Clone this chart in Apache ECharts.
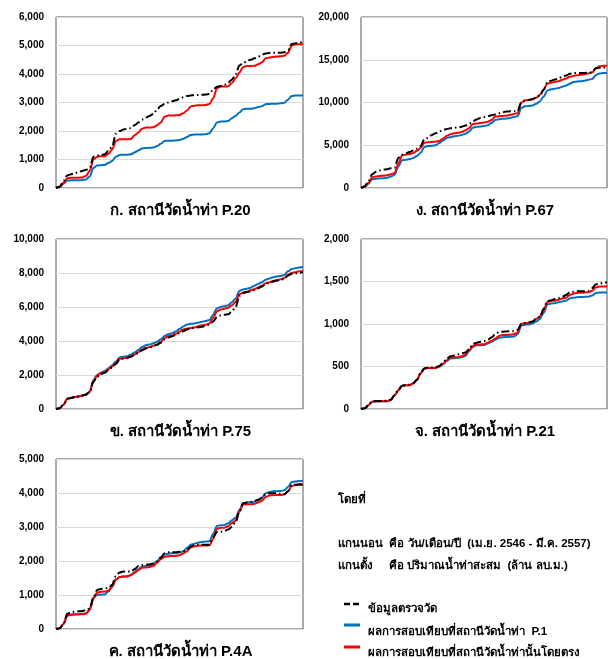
<!DOCTYPE html>
<html><head><meta charset="utf-8">
<script src="https://cdn.jsdelivr.net/npm/echarts@6/dist/echarts.min.js"></script>
<style>html,body{margin:0;padding:0;background:#fff}#c{width:608px;height:659px}</style>
</head><body><div id="c"></div>
<script>
// month index from Apr 2546 (0) to Mar/Apr 2557 (132), every 2 months
const months = [0,2,4,6,8,10,12,14,16,18,20,22,24,26,28,30,32,34,36,38,40,42,44,46,48,50,52,54,56,58,60,62,64,66,68,70,72,74,76,78,80,82,84,86,88,90,92,94,96,98,100,102,104,106,108,110,112,114,116,118,120,122,124,126,128,130,132];

const seriesNames = ['ข้อมูลตรวจวัด','ผลการสอบเทียบที่สถานีวัดน้ำท่า  P.1','ผลการสอบเทียบที่สถานีวัดน้ำท่านั้นโดยตรง'];

// Panel ก. P.20
const p20_obs = [0,50,250,440,480,520, 560,600,640,700,1100,1140, 1160,1180,1300,1450,1900,2000, 2050,2080,2100,2200,2300,2400, 2470,2530,2600,2750,2880,2950, 3000,3040,3080,3130,3180,3230, 3250,3260,3260,3270,3280,3300, 3450,3550,3580,3620,3700,3800, 4000,4300,4380,4450,4500,4550, 4600,4680,4720,4740,4750,4750, 4750,4760,4850,5050,5080,5100, 5130];
const p20_p1 = [0,30,150,260,270,270, 270,280,300,400,700,790, 800,810,880,950,1100,1160, 1170,1170,1180,1250,1320,1390, 1400,1410,1420,1470,1550,1650, 1660,1660,1670,1680,1730,1790, 1860,1880,1880,1880,1890,1920, 2100,2300,2330,2330,2350,2450, 2530,2650,2760,2780,2780,2800, 2840,2870,2940,2950,2960,2960, 2970,2990,3100,3230,3250,3250, 3250];
const p20_own = [0,40,180,340,360,360, 360,370,420,600,1000,1100, 1110,1110,1200,1350,1650,1710, 1710,1710,1720,1850,1950,2080, 2120,2120,2130,2200,2300,2500, 2540,2540,2550,2560,2620,2720, 2860,2890,2900,2900,2910,2950, 3150,3500,3560,3560,3570,3680, 3850,4050,4250,4280,4280,4290, 4340,4400,4550,4580,4600,4610, 4620,4640,4750,5000,5040,5040, 5040];

// Panel ง. P.67
const p67_obs = [0,200,800,1600,1900,2050, 2150,2200,2300,2350,3500,3900, 4050,4200,4400,4600,4900,5700, 5850,6200,6400,6600,6800,6900, 7000,7050,7080,7150,7300,7500, 7800,8000,8200,8300,8400,8500, 8600,8750,8850,8950,8970,8970, 8980,10000,10200,10300,10400,10600, 10800,11500,12400,12550,12700,12850, 13000,13150,13350,13450,13460,13460, 13460,13470,13550,14000,14050,14100, 14100];
const p67_p1 = [0,120,500,1020,1080,1120, 1140,1200,1350,1550,2500,3250, 3300,3380,3500,3750,4100,4800, 4900,4950,5000,5250,5550,5850, 5950,6050,6100,6200,6350,6600, 7050,7150,7200,7250,7350,7600, 7950,8050,8100,8120,8200,8300, 8400,9350,9550,9600,9650,9850, 10150,10700,11400,11550,11600,11700, 11850,12000,12200,12400,12450,12500, 12550,12650,12750,13200,13400,13450, 13450];
const p67_own = [0,150,600,1250,1350,1400, 1440,1500,1600,1750,2800,3800, 3900,3980,4100,4350,4700,5300, 5350,5380,5420,5500,5800,6100, 6300,6400,6450,6550,6750,7000, 7500,7550,7600,7650,7750,7950, 8350,8400,8420,8460,8550,8650, 8750,10000,10250,10300,10350,10550, 10900,11500,12200,12300,12400,12500, 12650,12800,13000,13100,13200,13250, 13300,13400,13500,14000,14250,14300, 14300];

// Panel ข. P.75
const p75_obs = [0,50,250,600,650,700, 740,790,850,1000,1600,1900, 2050,2130,2280,2450,2650,2920, 2950,3000,3080,3180,3300,3450, 3560,3620,3700,3780,3900,4100, 4200,4280,4350,4450,4570,4680, 4740,4780,4810,4840,4900,4980, 5150,5400,5500,5540,5570,5750, 6000,6650,6820,6880,6920,7000, 7100,7200,7350,7420,7500,7560, 7590,7650,7850,7950,7990,8020, 8040];
const p75_p1 = [0,50,250,600,650,700, 740,790,850,1000,1700,2000, 2150,2230,2400,2580,2800,3030, 3080,3100,3200,3330,3480,3650, 3750,3800,3870,3950,4100,4300, 4400,4450,4560,4700,4850,4970, 5010,5030,5080,5130,5180,5230, 5550,5920,6000,6050,6100,6280, 6500,6950,7030,7080,7130,7250, 7350,7450,7600,7680,7750,7800, 7830,7880,8100,8230,8280,8320, 8350];
const p75_own = [0,50,250,600,650,700, 740,790,850,1000,1650,1950, 2100,2180,2330,2500,2700,2950, 3000,3020,3100,3200,3350,3500, 3600,3650,3720,3800,3950,4150, 4280,4330,4420,4550,4680,4740, 4770,4800,4870,4920,4960,5030, 5350,5750,5850,5900,5950,6100, 6300,6750,6850,6900,6980,7050, 7150,7250,7400,7450,7530,7580, 7630,7700,7900,8000,8050,8100, 8120];

// Panel จ. P.21
const p21_obs = [0,8,45,88,95,95, 95,97,110,165,225,275, 282,285,305,345,425,480, 488,488,490,505,545,590, 620,630,645,655,665,700, 765,780,790,800,815,840, 880,905,910,912,915,915, 930,1000,1010,1018,1030,1060, 1080,1180,1270,1280,1295,1305, 1320,1340,1370,1380,1385,1385, 1385,1390,1420,1465,1475,1485, 1490];
const p21_p1 = [0,8,45,85,90,90, 90,92,105,160,220,270, 278,280,300,340,420,475, 483,483,483,500,525,565, 595,598,600,610,625,680, 730,750,750,752,770,790, 815,835,845,848,850,852, 880,980,990,995,1005,1030, 1060,1130,1230,1240,1245,1255, 1265,1275,1300,1310,1315,1318, 1320,1322,1335,1365,1370,1370, 1370];
const p21_own = [0,8,45,85,90,90, 90,92,105,160,220,270, 278,280,300,340,420,475, 483,483,483,500,530,575, 605,608,610,620,640,690, 740,760,760,762,780,800, 830,860,870,872,875,878, 900,1000,1010,1015,1030,1060, 1090,1160,1260,1270,1275,1285, 1300,1310,1340,1360,1365,1368, 1370,1375,1390,1430,1440,1440, 1440];

// Panel ค. P.4A
const p4a_obs = [0,20,150,450,490,510, 520,530,560,600,920,1150, 1180,1195,1210,1300,1560,1660, 1690,1690,1690,1760,1850,1880, 1890,1900,1930,1980,2100,2230, 2260,2260,2260,2270,2290,2340, 2420,2475,2475,2475,2475,2480, 2700,2850,2860,2880,2930,3000, 3150,3450,3700,3720,3745,3760, 3800,3850,3960,3990,3990,3990, 3975,3960,4050,4230,4245,4255, 4255];
const p4a_p1 = [0,20,150,400,430,435, 440,445,460,580,930,1000, 1010,1015,1100,1240,1460,1530, 1545,1550,1590,1680,1760,1840, 1855,1865,1900,2000,2100,2190, 2210,2225,2230,2250,2290,2380, 2480,2510,2540,2560,2570,2580, 2800,3030,3050,3060,3110,3200, 3270,3500,3700,3720,3730,3740, 3790,3860,3990,4030,4050,4055, 4060,4080,4180,4320,4340,4350, 4350];
const p4a_own = [0,20,150,390,415,425, 430,435,445,560,900,1070, 1095,1100,1130,1250,1450,1530, 1545,1545,1580,1650,1730,1800, 1810,1820,1860,1950,2050,2120, 2140,2150,2150,2170,2220,2290, 2400,2430,2450,2455,2455,2460, 2650,2950,2975,2980,3020,3120, 3180,3450,3660,3670,3670,3680, 3720,3770,3880,3930,3935,3940, 3940,3960,4050,4210,4230,4235, 4235];

const titles = ['ก. สถานีวัดน้ำท่า P.20','ง. สถานีวัดน้ำท่า P.67','ข. สถานีวัดน้ำท่า P.75','จ. สถานีวัดน้ำท่า P.21','ค. สถานีวัดน้ำท่า P.4A'];
const yMax = [6000,20000,10000,2000,5000];
const yStep = [1000,5000,2000,500,1000];

const panels = [
  {obs:p20_obs,p1:p20_p1,own:p20_own, box:[56,17,247,171]},
  {obs:p67_obs,p1:p67_p1,own:p67_own, box:[361,17,246,171]},
  {obs:p75_obs,p1:p75_p1,own:p75_own, box:[56,239,247,170]},
  {obs:p21_obs,p1:p21_p1,own:p21_own, box:[361,239,246,170]},
  {obs:p4a_obs,p1:p4a_p1,own:p4a_own, box:[56,459,247,170]}
];

const FONT = '"Liberation Sans", Arial, "Noto Sans", sans-serif';
const grids=[], xAxes=[], yAxes=[], series=[], graphics=[];
panels.forEach((p,i)=>{
  const [l,t,w,h]=p.box;
  grids.push({left:l,top:t,width:w,height:h,show:true,borderColor:'#595959',borderWidth:1,backgroundColor:'#fff'});
  xAxes.push({gridIndex:i,type:'category',data:months,boundaryGap:false,axisLine:{show:false},axisTick:{show:false},axisLabel:{show:false},splitLine:{show:false}});
  yAxes.push({gridIndex:i,type:'value',min:0,max:yMax[i],interval:yStep[i],
    axisLine:{show:false},axisTick:{show:false},
    axisLabel:{color:'#000',fontWeight:'bold',fontSize:10,fontFamily:FONT,margin:12,
      formatter:v=>v.toLocaleString('en-US')},
    splitLine:{lineStyle:{color:'#d9d9d9',width:1}}});
  const common={type:'line',xAxisIndex:i,yAxisIndex:i,showSymbol:false,symbol:'none',smooth:0.3,smoothMonotone:'x',animation:false};
  series.push(Object.assign({},common,{name:seriesNames[1],data:p.p1,lineStyle:{color:'#0070c0',width:2},itemStyle:{color:'#0070c0'}}));
  series.push(Object.assign({},common,{name:seriesNames[2],data:p.own,lineStyle:{color:'#ff0000',width:2},itemStyle:{color:'#ff0000'}}));
  series.push(Object.assign({},common,{name:seriesNames[0],data:p.obs,lineStyle:{color:'#000',width:2,type:[8,3,1.5,3]},itemStyle:{color:'#000'}}));
  graphics.push({type:'text',x:l+w/2+1,y:t+h+23,style:{text:titles[i],fill:'#000',font:'bold 15px '+FONT,textAlign:'center',textVerticalAlign:'middle'}});
});

const noteFont='bold 11.5px '+FONT;
graphics.push({type:'text',x:338,y:500,style:{text:'โดยที่',fill:'#000',font:noteFont,textVerticalAlign:'middle'}});
graphics.push({type:'text',x:338,y:544,style:{text:'แกนนอน  คือ วัน/เดือน/ปี  (เม.ย. 2546 - มี.ค. 2557)',fill:'#000',font:noteFont,textVerticalAlign:'middle'}});
graphics.push({type:'text',x:338,y:566,style:{text:'แกนตั้ง     คือ ปริมาณน้ำท่าสะสม  (ล้าน ลบ.ม.)',fill:'#000',font:noteFont,textVerticalAlign:'middle'}});
graphics.push({type:'line',shape:{x1:344,y1:604,x2:360,y2:604},style:{stroke:'#000',lineWidth:2.5,lineDash:[6,3]}});
graphics.push({type:'line',shape:{x1:344,y1:625,x2:360,y2:625},style:{stroke:'#0070c0',lineWidth:3}});
graphics.push({type:'line',shape:{x1:344,y1:647,x2:360,y2:647},style:{stroke:'#ff0000',lineWidth:3}});
graphics.push({type:'text',x:368,y:609,style:{text:seriesNames[0],fill:'#000',font:noteFont,textVerticalAlign:'middle'}});
graphics.push({type:'text',x:368,y:632,style:{text:seriesNames[1],fill:'#000',font:noteFont,textVerticalAlign:'middle'}});
graphics.push({type:'text',x:368,y:653,style:{text:seriesNames[2],fill:'#000',font:noteFont,textVerticalAlign:'middle'}});

const chart = echarts.init(document.getElementById('c'),null,{renderer:'canvas'});
chart.setOption({animation:false,backgroundColor:'#fff',grid:grids,xAxis:xAxes,yAxis:yAxes,series:series,graphic:graphics});
</script></body></html>
